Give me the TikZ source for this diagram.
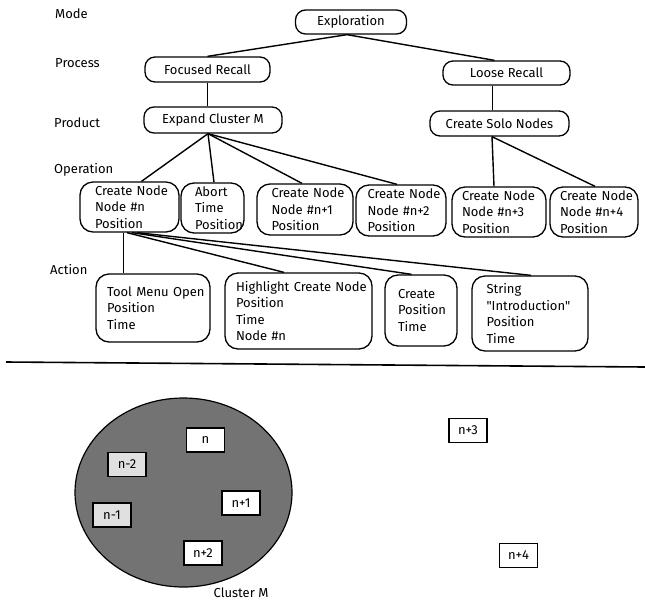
\documentclass[tikz,border=0pt]{standalone}
\usepackage{fontspec}
\setmainfont{Fira Sans}
\usetikzlibrary{shapes.geometric,calc}
\begin{document}
\begin{tikzpicture}[x=1pt,y=-1pt,
  txt/.style={font=\fontsize{13}{16.5}\selectfont, inner sep=0pt},
  lvl/.style={txt, anchor=west},
  pill/.style args={#1x#2}{txt, draw, line width=1.3pt, rounded corners=10pt, minimum width=#1pt, minimum height=#2pt},
  tbox/.style args={#1x#2/#3}{txt, draw, line width=1.3pt, rounded corners=13pt, align=left, inner xsep=3pt, inner ysep=0pt, text width=#1pt-6pt, minimum height=#2pt, execute at begin node={\leftskip=#3pt\rightskip=0pt plus 1fil minus 40pt}},
  sq/.style={txt, draw, line width=1.2pt, fill=white, minimum width=38pt, minimum height=24pt},
  link/.style={line width=1.4pt},
]
\useasboundingbox (0,0) rectangle (645,611);

% level labels
\node[lvl] (lmode) at (55,14) {Mode};
\node[lvl] (lproc) at (55,63) {Process};
\node[lvl] (lprod) at (54,123) {Product};
\node[lvl] (loper) at (54,170) {Operation};
\node[lvl] (lact) at (50,270) {Action};

% upper levels
\node[pill=111x24] (expl) at (351,22) {Exploration};
\node[pill=125x25] (focused) at (207.5,69.5) {Focused Recall};
\node[pill=127x24] (loose) at (506.5,73) {Loose Recall};
\node[pill=138x26] (expand) at (213,120) {Expand Cluster M};
\node[pill=139x25] (solo) at (499.5,123.5) {Create Solo Nodes};

% operations
\node[tbox=99x50/12] (op1) at (129.5,207) {Create Node\\Node \#n\\Position};
\node[tbox=63x50/11] (abort) at (212.5,208) {Abort\\Time\\Position};
\node[tbox=96x51/11.5] (op2) at (305,209.5) {Create Node\\Node \#n+1\\Position};
\node[tbox=90x51/8.5] (op3) at (401,210.5) {Create Node\\Node \#n+2\\Position};
\node[tbox=94x50/7] (op4) at (499,212) {Create Node\\Node \#n+3\\Position};
\node[tbox=88x50/7] (op5) at (594,212) {Create Node\\Node \#n+4\\Position};

% actions
\node[tbox=114x68/8] (tool) at (153,308) {Tool Menu Open\\Position\\Time};
\node[tbox=147x76/8] (high) at (298.5,311) {Highlight Create Node\\Position\\Time\\Node \#n};
\node[tbox=72x71/10] (create) at (421,310.5) {Create\\Position\\Time};
\node[tbox=116x75/11.5] (string) at (530,313.5) {String\\\textquotedbl Introduction\textquotedbl\\Position\\Time};

% connectors
\coordinate (exb) at ([xshift=-4]expl.south);
\draw[link] (exb) -- (focused.north);
\draw[link] (exb) -- ([xshift=-12]loose.north);
\draw[link] (focused.south) -- (focused.south |- expand.north);
\coordinate (lrb) at ([xshift=-14]loose.south);
\draw[link] (lrb) -- (lrb |- solo.north);
\coordinate (exf) at ([xshift=-5]expand.south);
\draw[link] (exf) -- ([xshift=12]op1.north);
\draw[link] (exf) -- ([xshift=1.5]abort.north);
\draw[link] (exf) -- ([xshift=-3]op2.north);
\draw[link] (exf) -- ([xshift=-4]op3.north);
\coordinate (sof) at ([xshift=-7.5]solo.south);
\draw[link] (sof) -- ([xshift=-5]op4.north);
\draw[link] (sof) -- ([xshift=1]op5.north);
\coordinate (opb) at ([xshift=-6]op1.south);
\draw[link] (opb) -- (opb |- tool.north);
\draw[link] ([xshift=-2.5]op1.south) -- ([xshift=-14.5]high.north);
\draw[link] ([xshift=2.5]op1.south) -- ([xshift=-9.5]create.north);
\draw[link] ([xshift=7.5]op1.south) -- ([xshift=1]string.north);

% separator
\coordinate (hl1) at (6,362);
\coordinate (hl2) at (645,367);
\draw[line width=1.6pt] (hl1) -- (hl2);

% cluster
\node[ellipse, draw, line width=1.2pt, fill=black!55, minimum width=217pt, minimum height=189pt, inner sep=0pt] (cluster) at (183.5,492.5) {};
\node[sq] (n) at (205.5,440) {n};
\node[sq, fill=black!12] (nm2) at (127,464.5) {n-2};
\node[sq] (np1) at (241,503) {n+1};
\node[sq, fill=black!12] (nm1) at (112,515) {n-1};
\node[sq] (np2) at (203,553) {n+2};
\node[sq] (np3) at (468,430.5) {n+3};
\node[sq] (np4) at (518.5,555.5) {n+4};
\node[txt] (clabel) at (241,593) {Cluster M};
\end{tikzpicture}
\end{document}
